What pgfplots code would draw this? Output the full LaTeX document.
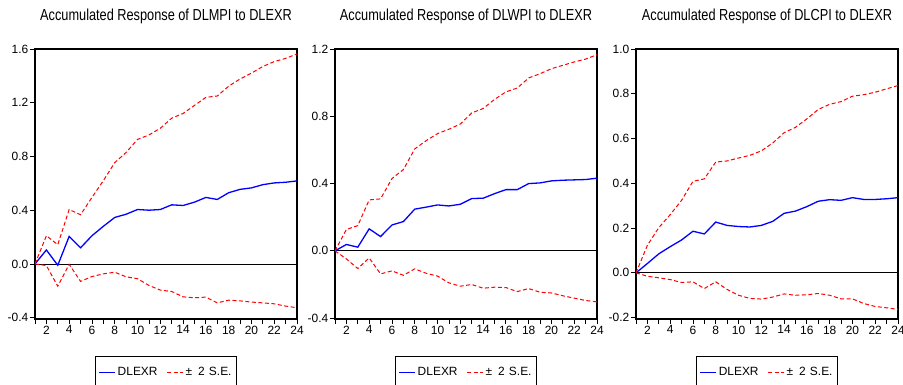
\documentclass[border=0pt]{standalone}
\usepackage{fontspec}
\setmainfont{Liberation Sans}
\newfontfamily\titlefont{Liberation Sans}[FakeStretch=0.8]
\usepackage{pgfplots}
\pgfplotsset{compat=1.18}
\pgfplotsset{
 irf/.style={
  scale only axis, width=262bp, height=270bp, anchor=south west,
  xmin=1, xmax=24,
  axis line style={black, line width=1.3bp},
  tick align=outside, tick pos=left,
  major tick length=5bp, minor tick length=5bp,
  every tick/.style={black, line width=0.8bp},
  xtick={2,4,...,24}, minor xtick={1,...,24},
  /pgf/number format/assume math mode=true,
  tick label style={font=\fontsize{12}{13}\selectfont, inner sep=1.5bp},
  title style={font=\titlefont\fontsize{16}{18}\selectfont, at={(0.5,1)}, anchor=base, yshift=23bp},
  legend style={at={(0.5,-0.137)}, anchor=north, draw=black, line width=0.8bp,
    font=\fontsize{12}{13}\selectfont, inner xsep=3bp, inner ysep=9bp,
    /tikz/every even column/.append style={column sep=7bp}},
  legend columns=2,
  legend image code/.code={\draw[##1] (0bp,0bp) -- (16bp,0bp);},
  legend cell align=left,
 },
 blueline/.style={blue, line width=1.3bp, solid},
 redline/.style={red, line width=1bp, dash pattern=on 4bp off 2.5bp},
}
\begin{document}
\begin{tikzpicture}
\useasboundingbox (0,0) rectangle (903bp,385bp);
% Panel 1
\begin{axis}[irf, at={(35bp,66bp)}, ymin=-0.41, ymax=1.6,
  ytick={-0.4,0,0.4,0.8,1.2,1.6}, yticklabels={-0.4,0.0,0.4,0.8,1.2,1.6},
  title={Accumulated Response of DLMPI to DLEXR}]
\addplot[black, line width=0.8bp, forget plot] coordinates {(1,0) (24,0)};
\addplot[redline, forget plot] coordinates {
(1,0) (2,-0.012) (3,-0.166) (4,-0.003) (5,-0.13) (6,-0.094) (7,-0.074) (8,-0.062)
(9,-0.096) (10,-0.11) (11,-0.16) (12,-0.195) (13,-0.205) (14,-0.245) (15,-0.252)
(16,-0.247) (17,-0.29) (18,-0.27) (19,-0.275) (20,-0.284) (21,-0.29) (22,-0.297)
(23,-0.314) (24,-0.326)};
\addplot[blueline] coordinates {
(1,0) (2,0.104) (3,-0.01) (4,0.205) (5,0.12) (6,0.21) (7,0.28) (8,0.346)
(9,0.37) (10,0.405) (11,0.40) (12,0.405) (13,0.44) (14,0.435) (15,0.46)
(16,0.495) (17,0.48) (18,0.53) (19,0.555) (20,0.566) (21,0.59) (22,0.603)
(23,0.608) (24,0.618)};
\addplot[redline] coordinates {
(1,0) (2,0.21) (3,0.143) (4,0.405) (5,0.366) (6,0.495) (7,0.62) (8,0.754)
(9,0.83) (10,0.927) (11,0.96) (12,1.01) (13,1.085) (14,1.12) (15,1.18)
(16,1.24) (17,1.25) (18,1.323) (19,1.377) (20,1.42) (21,1.47) (22,1.506)
(23,1.53) (24,1.563)};
\legend{DLEXR, ±\hspace{0.5em}2\hspace{0.35em}S.E.}
\end{axis}
% Panel 2
\begin{axis}[irf, at={(335bp,66bp)}, ymin=-0.405, ymax=1.2,
  ytick={-0.4,0,0.4,0.8,1.2}, yticklabels={-0.4,0.0,0.4,0.8,1.2},
  title={Accumulated Response of DLWPI to DLEXR}]
\addplot[black, line width=0.8bp, forget plot] coordinates {(1,0) (24,0)};
\addplot[redline, forget plot] coordinates {
(1,0) (2,-0.048) (3,-0.105) (4,-0.042) (5,-0.137) (6,-0.119) (7,-0.145) (8,-0.107)
(9,-0.133) (10,-0.15) (11,-0.19) (12,-0.21) (13,-0.2) (14,-0.222) (15,-0.216)
(16,-0.218) (17,-0.242) (18,-0.224) (19,-0.246) (20,-0.25) (21,-0.267) (22,-0.281)
(23,-0.295) (24,-0.303)};
\addplot[blueline] coordinates {
(1,0) (2,0.038) (3,0.022) (4,0.131) (5,0.085) (6,0.154) (7,0.174) (8,0.248)
(9,0.26) (10,0.273) (11,0.267) (12,0.277) (13,0.311) (14,0.313) (15,0.34)
(16,0.364) (17,0.364) (18,0.40) (19,0.404) (20,0.416) (21,0.42) (22,0.422)
(23,0.424) (24,0.432)};
\addplot[redline] coordinates {
(1,0) (2,0.127) (3,0.15) (4,0.303) (5,0.309) (6,0.43) (7,0.483) (8,0.606)
(9,0.655) (10,0.697) (11,0.723) (12,0.754) (13,0.82) (14,0.846) (15,0.9)
(16,0.945) (17,0.968) (18,1.028) (19,1.053) (20,1.083) (21,1.103) (22,1.123)
(23,1.14) (24,1.166)};
\legend{DLEXR, ±\hspace{0.5em}2\hspace{0.35em}S.E.}
\end{axis}
% Panel 3
\begin{axis}[irf, at={(636bp,66bp)}, ymin=-0.206, ymax=1.0,
  ytick={-0.2,0,0.2,0.4,0.6,0.8,1.0}, yticklabels={-0.2,0.0,0.2,0.4,0.6,0.8,1.0},
  title={Accumulated Response of DLCPI to DLEXR}]
\addplot[black, line width=0.8bp, forget plot] coordinates {(1,0) (24,0)};
\addplot[redline, forget plot] coordinates {
(1,0) (2,-0.015) (3,-0.022) (4,-0.03) (5,-0.043) (6,-0.04) (7,-0.07) (8,-0.04)
(9,-0.074) (10,-0.1) (11,-0.114) (12,-0.117) (13,-0.108) (14,-0.094) (15,-0.1)
(16,-0.098) (17,-0.092) (18,-0.1) (19,-0.116) (20,-0.116) (21,-0.137) (22,-0.15)
(23,-0.156) (24,-0.163)};
\addplot[blueline] coordinates {
(1,0) (2,0.042) (3,0.085) (4,0.117) (5,0.147) (6,0.186) (7,0.174) (8,0.227)
(9,0.212) (10,0.207) (11,0.205) (12,0.212) (13,0.23) (14,0.266) (15,0.276)
(16,0.296) (17,0.32) (18,0.327) (19,0.324) (20,0.336) (21,0.328) (22,0.328)
(23,0.331) (24,0.336)};
\addplot[redline] coordinates {
(1,0) (2,0.123) (3,0.202) (4,0.26) (5,0.324) (6,0.409) (7,0.42) (8,0.495)
(9,0.5) (10,0.513) (11,0.525) (12,0.545) (13,0.58) (14,0.626) (15,0.65)
(16,0.688) (17,0.73) (18,0.753) (19,0.765) (20,0.789) (21,0.796) (22,0.807)
(23,0.822) (24,0.837)};
\legend{DLEXR, ±\hspace{0.5em}2\hspace{0.35em}S.E.}
\end{axis}
\end{tikzpicture}
\end{document}
